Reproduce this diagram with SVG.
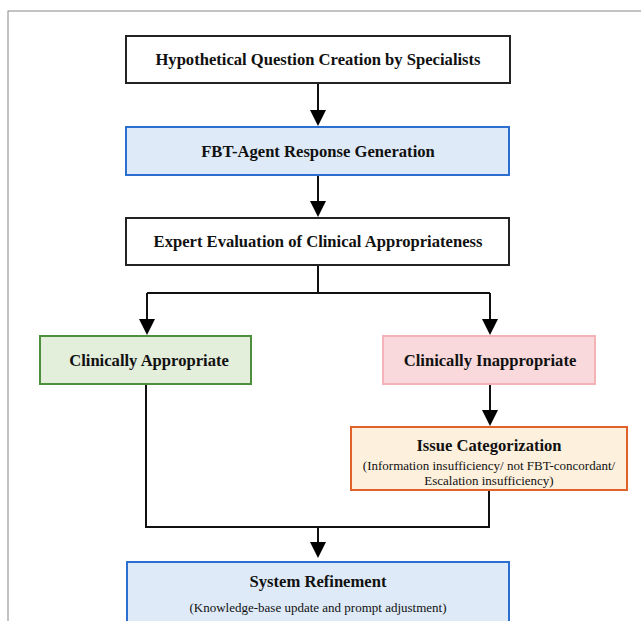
<svg xmlns="http://www.w3.org/2000/svg" width="641" height="621" viewBox="0 0 641 621">
<style>
.box{stroke-width:2}
.t{font-family:"Liberation Serif","Times New Roman",serif;font-weight:bold;font-size:16.6px;fill:#111;text-anchor:middle}
.s{font-family:"Liberation Serif","Times New Roman",serif;font-size:13px;fill:#111;text-anchor:middle}
.c{fill:none;stroke:#111;stroke-width:2}
</style>
<rect width="641" height="621" fill="#fff"/>
<rect x="8" y="11" width="700" height="700" fill="none" stroke="#888" stroke-width="1"/>
<g id="connectors">
<path class="c" d="M318,83 V110"/>
<path d="M310,110 H326 L318,126 Z" fill="#000"/>
<path class="c" d="M318,175 V201"/>
<path d="M310,201 H326 L318,217 Z" fill="#000"/>
<path class="c" d="M318,265 V293 M147,293 H490 M147,293 V319 M490,293 V319"/>
<path d="M139,319 H155 L147,335 Z" fill="#000"/>
<path d="M482,319 H498 L490,335 Z" fill="#000"/>
<path class="c" d="M490,384 V410"/>
<path d="M482,410 H498 L490,426 Z" fill="#000"/>
<path class="c" d="M146,384 V527 H489 V490 M318,527 V542"/>
<path d="M310,542 H326 L318,558 Z" fill="#000"/>
</g>
<g id="n1">
<rect class="box" x="126" y="36" width="384" height="47" fill="#fff" stroke="#222"/>
<text class="t" x="318" y="65">Hypothetical Question Creation by Specialists</text>
</g>
<g id="n2">
<rect class="box" x="126" y="127" width="383" height="48" fill="#deeaf7" stroke="#2d6fd0"/>
<text class="t" x="318" y="157">FBT-Agent Response Generation</text>
</g>
<g id="n3">
<rect class="box" x="126" y="218" width="383" height="47" fill="#fff" stroke="#222"/>
<text class="t" x="318" y="247">Expert Evaluation of Clinical Appropriateness</text>
</g>
<g id="n4">
<rect class="box" x="40" y="336" width="211" height="48" fill="#e3eedb" stroke="#4e8f3e"/>
<text class="t" x="149" y="366">Clinically Appropriate</text>
</g>
<g id="n5">
<rect class="box" x="383" y="336" width="212" height="48" fill="#f9d9db" stroke="#f3b3b8"/>
<text class="t" x="490" y="366">Clinically Inappropriate</text>
</g>
<g id="n6">
<rect class="box" x="351" y="427" width="276" height="63" fill="#fdf0dd" stroke="#e0622a"/>
<text class="t" x="489" y="451">Issue Categorization</text>
<text class="s" x="489" y="470">(Information insufficiency/ not FBT-concordant/</text>
<text class="s" x="489" y="485">Escalation insufficiency)</text>
</g>
<g id="n7">
<rect class="box" x="127" y="562" width="382" height="80" fill="#deeaf7" stroke="#2d6fd0"/>
<text class="t" x="318" y="587">System Refinement</text>
<text class="s" x="318" y="612">(Knowledge-base update and prompt adjustment)</text>
</g>
</svg>
